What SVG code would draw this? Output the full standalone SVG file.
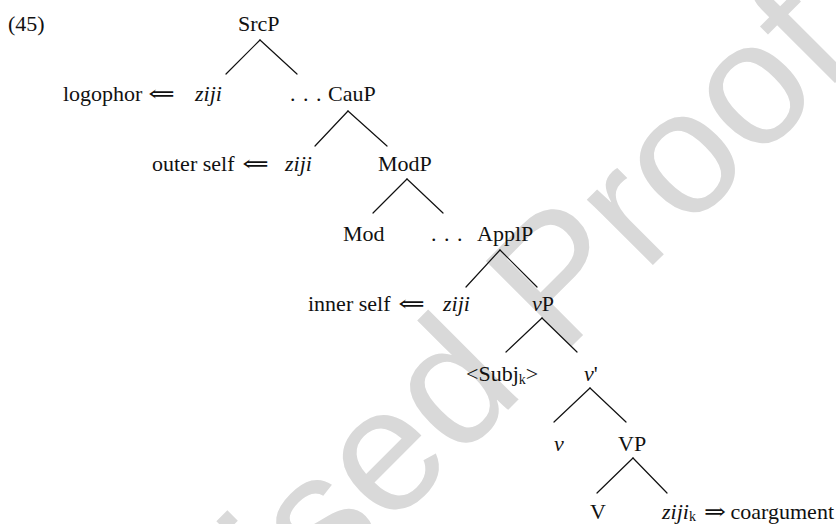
<svg xmlns="http://www.w3.org/2000/svg" width="836" height="524" viewBox="0 0 836 524">
  <style>
    .t { font-family: "Liberation Serif", "Times New Roman", serif; font-size: 22px; fill: #111; }
    .i { font-style: italic; }
    .dots { letter-spacing: 1px; }
    .arr { font-family: "DejaVu Serif", "Liberation Serif", serif; font-size: 22px; fill: #111; }
    .sub { font-size: 14px; }
    .wm { font-family: "Liberation Sans", Arial, sans-serif; font-size: 176px; fill: #d9d9d9; }
    .edge { stroke: #111; stroke-width: 1.2; fill: none; stroke-linecap: round; }
  </style>
  <rect width="836" height="524" fill="#fff"/>

  <!-- proof watermark behind the tree -->
  <text class="wm" transform="translate(77 841) rotate(-45)">Revised Proof</text>

  <!-- example number -->
  <text class="t" x="8" y="31">(45)</text>

  <!-- tree branches -->
  <g id="edges">
    <line class="edge" x1="260" y1="40" x2="226" y2="74"/>
    <line class="edge" x1="260" y1="40" x2="297" y2="74"/>
    <line class="edge" x1="348" y1="111" x2="315" y2="146"/>
    <line class="edge" x1="348" y1="111" x2="387" y2="146"/>
    <line class="edge" x1="407" y1="179" x2="373" y2="213"/>
    <line class="edge" x1="407" y1="179" x2="443" y2="213"/>
    <line class="edge" x1="500" y1="250" x2="466" y2="287"/>
    <line class="edge" x1="500" y1="250" x2="537" y2="287"/>
    <line class="edge" x1="542" y1="318" x2="506" y2="352"/>
    <line class="edge" x1="542" y1="318" x2="577" y2="352"/>
    <line class="edge" x1="590" y1="388" x2="554" y2="422"/>
    <line class="edge" x1="590" y1="388" x2="626" y2="422"/>
    <line class="edge" x1="633" y1="458" x2="597" y2="493"/>
    <line class="edge" x1="633" y1="458" x2="667" y2="493"/>
  </g>

  <g id="SrcP"><text class="t" x="238" y="31">SrcP</text></g>

  <g id="ziji-logophor">
    <text class="t" x="63" y="101">logophor</text>
    <text class="arr" x="148" y="101" textLength="27" lengthAdjust="spacingAndGlyphs">⇐</text>
    <text class="t i" x="195" y="101">ziji</text>
  </g>
  <g id="CauP">
    <text class="t dots" x="290" y="101">. . .</text>
    <text class="t" x="328" y="101">CauP</text>
  </g>

  <g id="ziji-outer">
    <text class="t" x="152" y="171">outer self</text>
    <text class="arr" x="242" y="171" textLength="27" lengthAdjust="spacingAndGlyphs">⇐</text>
    <text class="t i" x="285" y="171">ziji</text>
  </g>
  <g id="ModP"><text class="t" x="378" y="171">ModP</text></g>

  <g id="Mod"><text class="t" x="343" y="241">Mod</text></g>
  <g id="ApplP">
    <text class="t dots" x="431" y="241">. . .</text>
    <text class="t" x="477" y="241">ApplP</text>
  </g>

  <g id="ziji-inner">
    <text class="t" x="308" y="311">inner self</text>
    <text class="arr" x="398" y="311" textLength="27" lengthAdjust="spacingAndGlyphs">⇐</text>
    <text class="t i" x="443" y="311">ziji</text>
  </g>
  <g id="vP"><text class="t" x="532" y="311"><tspan class="i">v</tspan>P</text></g>

  <g id="Subj"><text class="t" x="466" y="381">&lt;Subj<tspan class="sub" dy="3">k</tspan><tspan dy="-3">&gt;</tspan></text></g>
  <g id="v-bar"><text class="t" x="584" y="381"><tspan class="i">v</tspan>'</text></g>

  <g id="v"><text class="t i" x="554" y="451">v</text></g>
  <g id="VP"><text class="t" x="618" y="451">VP</text></g>

  <g id="V"><text class="t" x="590" y="519">V</text></g>
  <g id="ziji-coargument">
    <text class="t" x="662" y="519"><tspan class="i">ziji</tspan><tspan class="sub" dy="2">k</tspan></text>
    <text class="arr" x="704" y="519" textLength="22" lengthAdjust="spacingAndGlyphs">⇒</text>
    <text class="t" x="834" y="519" text-anchor="end">coargument</text>
  </g>
</svg>
